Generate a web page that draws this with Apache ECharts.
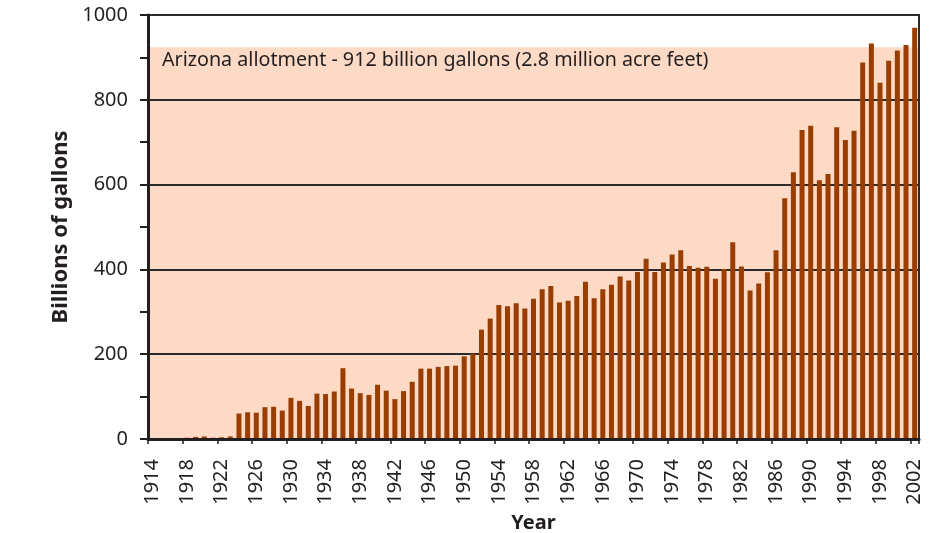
<!DOCTYPE html>
<html>
<head>
<meta charset="utf-8">
<script src="https://cdn.jsdelivr.net/npm/echarts@6/dist/echarts.min.js"></script>
<style>html,body{margin:0;padding:0;background:#fff;}#c{width:932px;height:533px;}</style>
</head>
<body>
<div id="c"></div>
<script>
const years = [];
for (let y = 1914; y <= 2002; y++) years.push(String(y));
const usage = [
  1, 2, 2, 2, 3, 5, 6, 3, 4, 6,
  60, 63, 62, 75, 76, 67, 97, 90, 78, 107,
  106, 112, 167, 119, 108, 104, 128, 114, 94, 113,
  135, 166, 166, 170, 172, 173, 195, 201, 258, 284,
  316, 313, 320, 308, 331, 353, 361, 322, 326, 337,
  371, 332, 353, 364, 383, 374, 394, 425, 394, 416,
  435, 445, 408, 404, 406, 378, 401, 464, 407, 350,
  367, 393, 445, 568, 629, 729, 739, 610, 625, 735,
  705, 727, 888, 933, 840, 892, 916, 929, 970
];
const allotmentBand = [0, 924];
const allotmentLabel = 'Arizona allotment - 912 billion gallons (2.8 million acre feet)';
const yTitle = 'Billions of gallons';
const xTitle = 'Year';

const textColor = '#231f20';
const font = 'Noto Sans';
const chart = echarts.init(document.getElementById('c'), null, {renderer: 'canvas'});
chart.setOption({
  animation: false,
  backgroundColor: '#ffffff',
  textStyle: {fontFamily: font, color: textColor},
  grid: {
    left: 148, right: 13, top: 15, height: 424,
    outerBoundsMode: 'none',
    containLabel: false,
    show: true, backgroundColor: 'transparent',
    borderColor: '#2b2b2b', borderWidth: 2, z: 2
  },
  xAxis: {
    type: 'category',
    data: years,
    z: 4,
    name: xTitle,
    nameLocation: 'middle',
    nameGap: 74,
    nameTextStyle: {fontFamily: font, fontSize: 20, fontWeight: 'bold', color: textColor},
    axisLine: {lineStyle: {color: '#231f20', width: 3}},
    axisTick: {show: true, length: 5, lineStyle: {color: '#231f20', width: 1.5}},
    axisLabel: {
      interval: 3, rotate: 90, margin: 20,
      fontFamily: font, fontSize: 20, color: textColor
    },
    splitLine: {show: false}
  },
  yAxis: {
    type: 'value',
    min: 0, max: 1000, interval: 200,
    z: 2,
    name: yTitle,
    nameLocation: 'middle',
    nameGap: 73,
    nameTextStyle: {fontFamily: font, fontSize: 22, fontWeight: 'bold', color: textColor},
    axisLine: {show: true, lineStyle: {color: '#231f20', width: 3}},
    axisTick: {show: true, length: 8, lineStyle: {color: '#231f20', width: 2}},
    minorTick: {show: true, splitNumber: 2, length: 8, lineStyle: {color: '#231f20', width: 2}},
    axisLabel: {margin: 20, fontFamily: font, fontSize: 20, color: textColor,
      formatter: function (v) { return String(v); }},
    splitLine: {show: true, lineStyle: {color: '#2b2b2b', width: 2}}
  },
  series: [
    {
      type: 'line',
      data: usage,
      z: 1,
      symbol: 'none',
      silent: true,
      lineStyle: {opacity: 0},
      markArea: {
        silent: true,
        z: 1,
        itemStyle: {color: '#fddac5'},
        label: {
          show: true, position: 'insideTopLeft',
          distance: 0, offset: [14, 3],
          formatter: allotmentLabel,
          fontFamily: font, fontSize: 19.7, color: textColor
        },
        data: [[{yAxis: allotmentBand[1]}, {yAxis: allotmentBand[0]}]]
      }
    },
    {
      type: 'bar',
      data: usage,
      barWidth: 5,
      itemStyle: {color: '#993d00'},
      z: 3
    }
  ]
});
</script>
</body>
</html>
